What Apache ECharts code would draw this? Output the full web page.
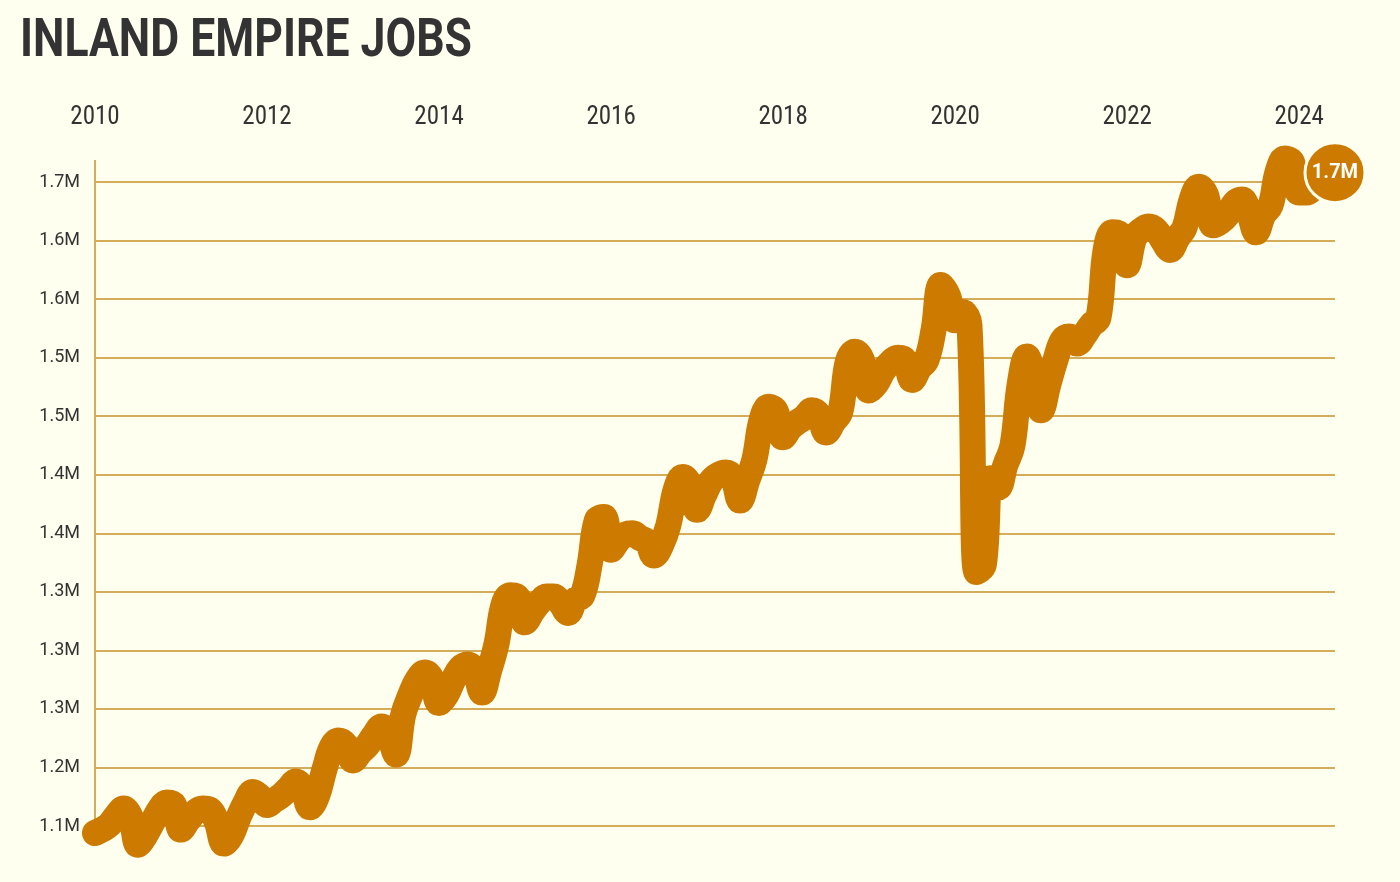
<!DOCTYPE html>
<html>
<head>
<meta charset="utf-8">
<title>Inland Empire Jobs</title>
<script src="https://cdn.jsdelivr.net/npm/echarts@6/dist/echarts.min.js"></script>
<style>
html, body { margin: 0; padding: 0; background: #fffff0; }
#chart { width: 1400px; height: 882px; }
</style>
</head>
<body>
<div id="chart"></div>
<script>
// nonfarm jobs, thousands, one array per year (Jan..Dec)
const startYear = 2010
const jobs2010 = [1094, 1097, 1101, 1109, 1115, 1107, 1084, 1092, 1103, 1114, 1120, 1118]
const jobs2011 = [1097, 1105, 1112, 1115, 1114, 1103, 1085, 1092, 1107, 1120, 1129, 1125]
const jobs2012 = [1118, 1122, 1126, 1132, 1138, 1131, 1116, 1126, 1148, 1167, 1173, 1169]
const jobs2013 = [1156, 1163, 1169, 1178, 1185, 1178, 1161, 1195, 1212, 1225, 1231, 1225]
const jobs2014 = [1205, 1212, 1225, 1235, 1238, 1232, 1214, 1233, 1255, 1289, 1297, 1295]
const jobs2015 = [1274, 1283, 1291, 1296, 1296, 1290, 1282, 1293, 1297, 1323, 1361, 1364]
const jobs2016 = [1336, 1344, 1349, 1350, 1346, 1343, 1331, 1340, 1357, 1387, 1398, 1391]
const jobs2017 = [1370, 1383, 1395, 1400, 1402, 1397, 1378, 1395, 1413, 1447, 1458, 1454]
const jobs2018 = [1432, 1440, 1445, 1449, 1455, 1451, 1436, 1445, 1454, 1496, 1505, 1498]
const jobs2019 = [1472, 1478, 1489, 1496, 1500, 1498, 1481, 1491, 1498, 1524, 1562, 1553]
const jobs2020 = [1532, 1539, 1528, 1317, 1323, 1397, 1389, 1408, 1425, 1477, 1501, 1481]
const jobs2021 = [1455, 1477, 1498, 1515, 1518, 1512, 1519, 1528, 1534, 1592, 1607, 1605]
const jobs2022 = [1579, 1602, 1609, 1612, 1609, 1600, 1592, 1602, 1611, 1635, 1646, 1639]
const jobs2023 = [1613, 1616, 1622, 1632, 1635, 1624, 1607, 1622, 1630, 1659, 1670, 1667]
const jobs2024 = [1641, 1641, 1645, 1650, 1655, 1658]

// y tick labels as printed on the original
const yTickLabels = ['1.1M', '1.2M', '1.3M', '1.3M', '1.3M', '1.4M', '1.4M', '1.5M', '1.5M', '1.6M', '1.6M', '1.7M']

const monthly = [].concat(
  jobs2010, jobs2011, jobs2012, jobs2013, jobs2014, jobs2015, jobs2016, jobs2017,
  jobs2018, jobs2019, jobs2020, jobs2021, jobs2022, jobs2023, jobs2024
)
const lineData = monthly.map((v, i) => [startYear + i / 12, v])
const lastPoint = lineData[lineData.length - 1]

const orange = '#cc7a00'
const gridColor = '#d3ad5a'

const chart = echarts.init(document.getElementById('chart'))
const option = {
  backgroundColor: '#fffff0',
  animation: false,
  graphic: [
    {
      type: 'text',
      x: 20,
      y: 16,
      scaleX: 0.84,
      style: {
        text: 'INLAND EMPIRE JOBS',
        font: 'bold 53px Roboto',
        fill: '#333333'
      }
    },
    {
      // axis line runs a little above the top gridline
      type: 'line',
      shape: { x1: 95, y1: 160, x2: 95, y2: 182 },
      style: { stroke: gridColor, lineWidth: 2 }
    }
  ],
  grid: {
    left: 95,
    right: 65,
    top: 182,
    bottom: 56
  },
  xAxis: {
    type: 'value',
    position: 'top',
    min: startYear,
    max: lastPoint[0],
    interval: 2,
    axisLine: { show: false },
    axisTick: { show: false },
    splitLine: { show: false },
    axisLabel: {
      showMaxLabel: false,
      margin: 52,
      color: '#333333',
      fontSize: 25,
      fontFamily: '"Roboto Condensed", "Liberation Sans Narrow", "DejaVu Sans Condensed", Roboto',
      formatter: value => String(value)
    }
  },
  yAxis: {
    type: 'value',
    min: 1100,
    max: 1650,
    interval: 50,
    axisLine: { show: true, lineStyle: { color: gridColor, width: 2 } },
    axisTick: { show: false },
    splitLine: { show: true, lineStyle: { color: gridColor, width: 2 } },
    axisLabel: {
      margin: 15,
      color: '#333333',
      fontSize: 18,
      fontFamily: 'Roboto',
      formatter: value => yTickLabels[Math.round((value - 1100) / 50)]
    }
  },
  series: [
    {
      type: 'line',
      data: lineData,
      smooth: 0.4,
      showSymbol: false,
      clip: false,
      lineStyle: {
        color: orange,
        width: 26,
        cap: 'round',
        join: 'round'
      }
    },
    {
      // end-of-line value bubble
      type: 'scatter',
      data: [lastPoint],
      clip: false,
      symbol: 'circle',
      symbolSize: 60,
      z: 5,
      itemStyle: {
        color: orange,
        borderColor: '#fffff0',
        borderWidth: 3,
        opacity: 1
      },
      label: {
        show: true,
        position: 'inside',
        color: '#ffffff',
        fontSize: 20,
        fontWeight: 'bold',
        fontFamily: 'Roboto',
        formatter: p => (p.value[1] / 1000).toFixed(1) + 'M'
      }
    }
  ]
}
chart.setOption(option)
</script>
</body>
</html>
